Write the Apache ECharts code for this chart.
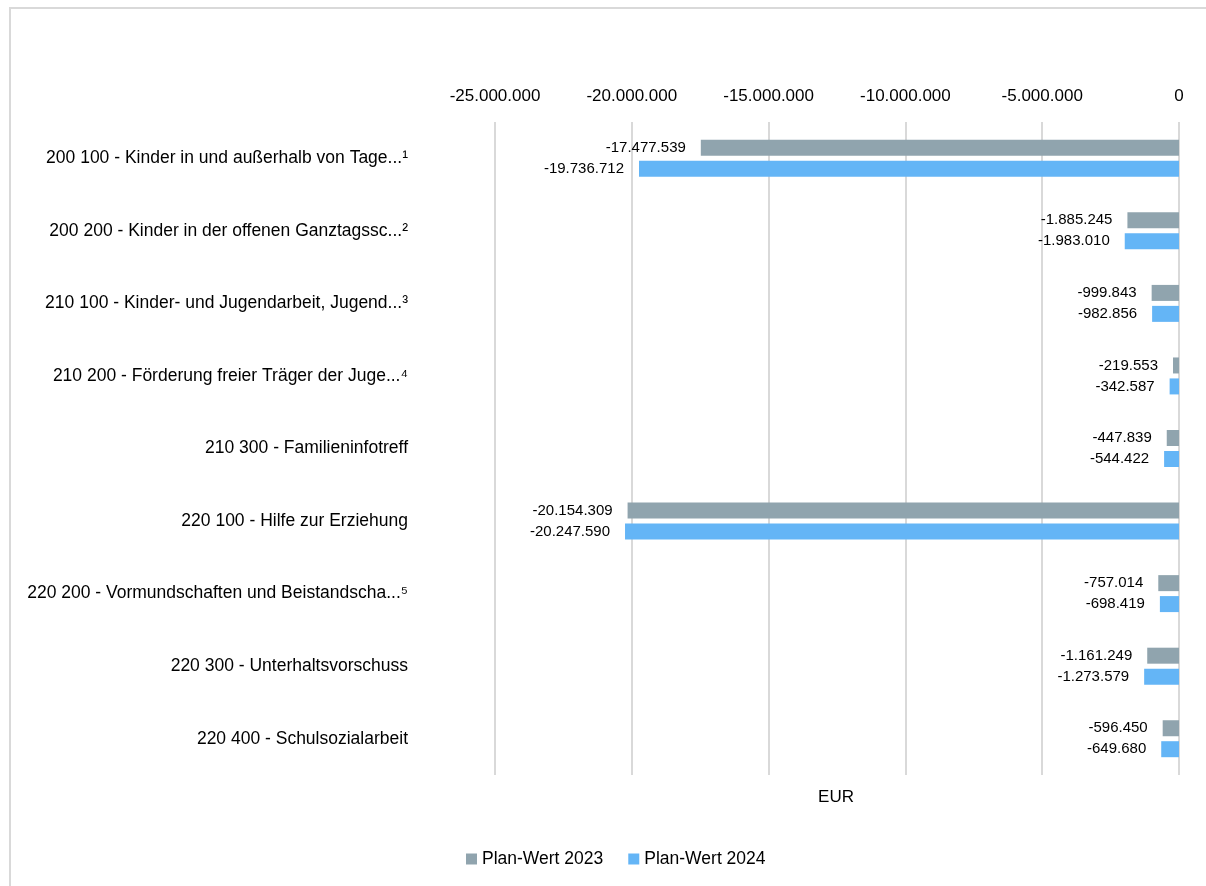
<!DOCTYPE html>
<html>
<head>
<meta charset="utf-8">
<script src="https://cdn.jsdelivr.net/npm/echarts@6/dist/echarts.min.js"></script>
<style>
  html, body { margin: 0; padding: 0; background: #fff; }
  #chart { width: 1206px; height: 886px; }
</style>
</head>
<body>
<div id="chart"></div>
<script>
// Produktbereiche (Kinder-, Jugend- und Familienhilfe)
const categories = [
  '200 100 - Kinder in und außerhalb von Tage...¹',
  '200 200 - Kinder in der offenen Ganztagssc...²',
  '210 100 - Kinder- und Jugendarbeit, Jugend...³',
  '210 200 - Förderung freier Träger der Juge...⁴',
  '210 300 - Familieninfotreff',
  '220 100 - Hilfe zur Erziehung',
  '220 200 - Vormundschaften und Beistandscha...⁵',
  '220 300 - Unterhaltsvorschuss',
  '220 400 - Schulsozialarbeit'
];
const seriesNames = ['Plan-Wert 2023', 'Plan-Wert 2024'];
const plan2023 = [-17477539, -1885245, -999843, -219553, -447839, -20154309, -757014, -1161249, -596450];
const plan2024 = [-19736712, -1983010, -982856, -342587, -544422, -20247590, -698419, -1273579, -649680];
const axisTicks = [-25000000, -20000000, -15000000, -10000000, -5000000, 0];
const unitLabel = 'EUR';

const FONT = '"Liberation Sans", Arial, sans-serif';

// German number format: dots as thousands separators
function fmt(v) {
  const neg = v < 0;
  const s = String(Math.abs(Math.round(v))).replace(/\B(?=(\d{3})+(?!\d))/g, '.');
  return (neg ? '-' : '') + s;
}

const chart = echarts.init(document.getElementById('chart'), null, { renderer: 'canvas' });

const labelStyle = {
  show: true,
  position: 'left',
  distance: 15,
  color: '#000',
  fontFamily: FONT,
  fontSize: 15,
  formatter: p => fmt(p.value)
};

chart.setOption({
  backgroundColor: '#fff',
  animation: false,
  textStyle: { fontFamily: FONT },
  graphic: [{
    type: 'rect',
    shape: { x: 10, y: 8, width: 1300, height: 1000 },
    style: { fill: 'none', stroke: '#d9d9d9', lineWidth: 2 },
    silent: true
  }],
  title: {
    text: unitLabel,
    left: 831,
    top: 784,
    textAlign: 'center',
    textStyle: { fontFamily: FONT, fontSize: 17, fontWeight: 'normal', color: '#000' }
  },
  legend: {
    data: seriesNames,
    bottom: 13,
    left: 461,
    icon: 'rect',
    itemWidth: 11,
    itemHeight: 11,
    itemGap: 25,
    textStyle: { fontFamily: FONT, fontSize: 17.5, color: '#000' }
  },
  grid: { left: 495, right: 27, top: 122, bottom: 111, containLabel: false },
  xAxis: {
    type: 'value',
    position: 'top',
    min: axisTicks[0],
    max: axisTicks[axisTicks.length - 1],
    interval: axisTicks[1] - axisTicks[0],
    axisLine: { show: false },
    axisTick: { show: false },
    axisLabel: {
      margin: 17,
      color: '#000',
      fontFamily: FONT,
      fontSize: 17,
      formatter: v => fmt(v)
    },
    splitLine: { show: true, lineStyle: { color: '#d9d9d9', width: 2 } }
  },
  yAxis: {
    type: 'category',
    data: categories,
    inverse: true,
    axisLine: { show: false },
    axisTick: { show: false },
    axisLabel: {
      margin: 87,
      color: '#000',
      fontFamily: FONT,
      fontSize: 17.5
    },
    splitLine: { show: false }
  },
  series: [
    {
      name: seriesNames[0],
      type: 'bar',
      data: plan2023,
      barWidth: 16,
      barGap: '31%',
      itemStyle: { color: '#90A4AE' },
      label: labelStyle
    },
    {
      name: seriesNames[1],
      type: 'bar',
      data: plan2024,
      barWidth: 16,
      itemStyle: { color: '#64B5F6' },
      label: labelStyle
    }
  ]
});
</script>
</body>
</html>
